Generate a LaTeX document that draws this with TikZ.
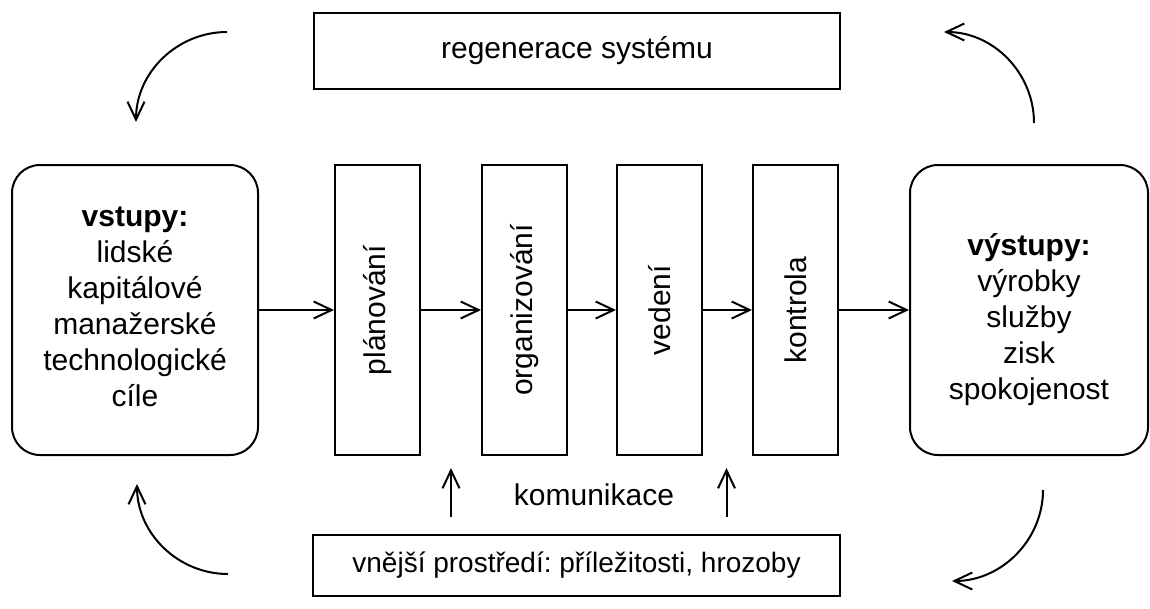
\documentclass[tikz,border=0pt]{standalone}
\usepackage{fontspec}
\setmainfont{Liberation Sans}
\usepackage{graphicx}
\usetikzlibrary{arrows.meta}
\frenchspacing

\tikzset{
  box/.style={draw, line width=2pt, inner sep=0pt, align=center},
  rbox/.style={box, rounded corners=28pt},
  procbox/.style={box, minimum width=85pt, minimum height=290pt},
  arr/.style={-{Straight Barb[length=18pt,width=17pt]}, line width=2pt},
}

\begin{document}
\begin{tikzpicture}[x=1pt, y=-1pt, font=\fontsize{30pt}{36pt}\selectfont]
  \useasboundingbox (0,0) rectangle (1150,608);

  % outer boxes
  \node[box, minimum width=526pt, minimum height=76pt] (regen) at (577,51) {regenerace systému};
  \node[box, minimum width=527pt, minimum height=61pt, font=\fontsize{28pt}{34pt}\selectfont]
    (env) at (576.5,565.5) {vnější prostředí: příležitosti, hrozoby};

  % inputs and outputs
  \node[rbox, minimum width=246pt, minimum height=290pt] (inp) at (135,310)
    {\rule{0pt}{23pt}\textbf{vstupy:}\\lidské\\kapitálové\\manažerské\\technologické\\cíle\rule[-11pt]{0pt}{11pt}};
  \node[rbox, minimum width=238pt, minimum height=290pt] (out) at (1029,310)
    {\rule{0pt}{41pt}\textbf{výstupy:}\\výrobky\\služby\\zisk\\spokojenost\rule[-7pt]{0pt}{7pt}};

  % management functions
  \node[procbox] (plan) at (377.5,310) {\rotatebox{90}{plánování}};
  \node[procbox] (org)  at (524.5,310) {\rotatebox{90}{organizování}};
  \node[procbox] (lead) at (659.5,310) {\rotatebox{90}{vedení}};
  \node[procbox] (ctrl) at (795.5,310) {\rotatebox{90}{kontrola}};

  % process flow
  \draw[arr] (inp.east) -- (plan.west);
  \draw[arr] (plan.east) -- (org.west);
  \draw[arr] (org.east) -- (lead.west);
  \draw[arr] (lead.east) -- (ctrl.west);
  \draw[arr] (ctrl.east) -- (out.west);

  % communication
  \node (kom) at (594,494.5) {komunikace};
  \coordinate (c1s) at (451,517);
  \coordinate (c1e) at (451,468);
  \coordinate (c2s) at (726.5,517);
  \coordinate (c2e) at (726.5,468);
  \draw[arr] (c1s) -- (c1e);
  \draw[arr] (c2s) -- (c2e);

  % feedback loop
  \coordinate (tlS) at (227,32);   \coordinate (tlE) at (136,122);
  \coordinate (trS) at (1034,123); \coordinate (trE) at (944,32);
  \coordinate (blS) at (228,574);  \coordinate (blE) at (137,484);
  \coordinate (brS) at (1043,490); \coordinate (brE) at (952,581);
  \draw[arr] (tlS) .. controls +(-49.7,0) and +(0,-49.7) .. (tlE);
  \draw[arr] (trS) .. controls +(0,-49.7) and +(49.7,0) .. (trE);
  \draw[arr] (blS) .. controls +(-49.7,0) and +(0,49.7) .. (blE);
  \draw[arr] (brS) .. controls +(0,49.7) and +(49.7,0) .. (brE);
\end{tikzpicture}
\end{document}
